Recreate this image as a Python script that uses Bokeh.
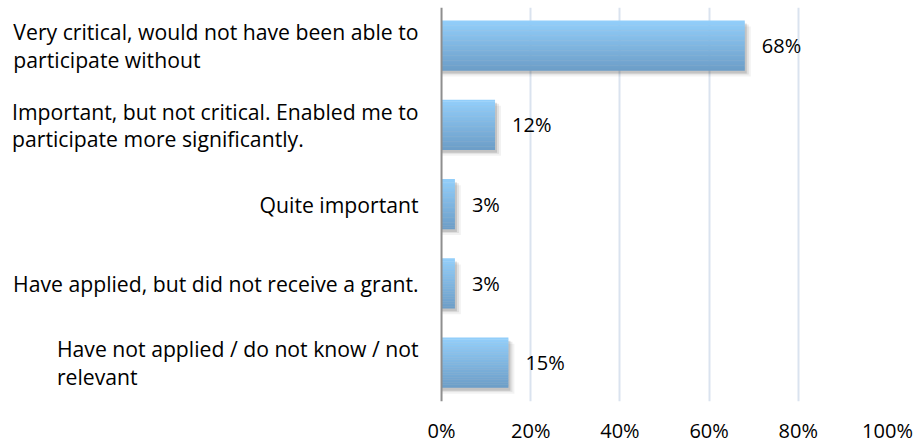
from bokeh.plotting import figure
from bokeh.models import Range1d, FixedTicker, NumeralTickFormatter, Span, ColumnDataSource
from bokeh.core.properties import value
from bokeh.embed import file_html
from bokeh.resources import INLINE

# ---- data ----
categories = [
    "Very critical, would not have been able to\nparticipate without",
    "Important, but not critical. Enabled me to\nparticipate more significantly.",
    "Quite important",
    "Have applied, but did not receive a grant.",
    "Have not applied / do not know / not\nrelevant",
]
shares = [0.68, 0.12, 0.03, 0.03, 0.15]
value_labels = ["68%", "12%", "3%", "3%", "15%"]
x_ticks = [0.0, 0.2, 0.4, 0.6, 0.8, 1.0]

FONT = "Open Sans"
FS_CAT = "21.2px"
FS_NUM = "20px"

idx = list(range(len(categories)))

p = figure(width=915, height=446, output_backend="svg", toolbar_location=None,
           x_range=Range1d(-0.971, 1.0), y_range=Range1d(4.49, -0.48),
           y_axis_location=None, min_border_left=8, min_border_right=28,
           min_border_top=7, min_border_bottom=0)
p.outline_line_color = None
p.background_fill_color = "white"
p.border_fill_color = "white"

# grid
p.ygrid.visible = False
p.xgrid.ticker = FixedTicker(ticks=x_ticks[1:])
p.xgrid.grid_line_color = "#DAE3EF"
p.xgrid.grid_line_width = 2

# x axis
ax = p.xaxis[0]
ax.ticker = FixedTicker(ticks=x_ticks)
ax.formatter = NumeralTickFormatter(format="0%")
ax.axis_line_color = None
ax.major_tick_line_color = None
ax.minor_tick_line_color = None
ax.major_label_standoff = 9
ax.major_label_text_font = FONT
ax.major_label_text_font_size = FS_NUM
ax.major_label_text_color = "#000000"

bar_h = 0.63

# shadow layers
for dx_px, dy_px, a in [(6, 6, 0.05), (4, 4, 0.08), (2, 3, 0.12)]:
    p.hbar(y=[i + dy_px / 79.1 for i in idx], left=0,
           right=[v + dx_px / 446 for v in shares], height=bar_h,
           fill_color="black", fill_alpha=a, line_color=None)

# gradient bars
N = 30
top = (147, 207, 251)
bot = (108, 157, 199)
for k in range(N):
    t = (k + 0.5) / N
    c = tuple(int(round(top[j] + (bot[j] - top[j]) * t)) for j in range(3))
    col = "#%02x%02x%02x" % c
    p.hbar(y=[i - bar_h / 2 + t * bar_h for i in idx], left=0, right=shares,
           height=bar_h / N * 1.15, fill_color=col, line_color=None)

# vertical axis line at 0
p.add_layout(Span(location=0, dimension="height", line_color="#8E8E8E", line_width=2))

# value labels
src = ColumnDataSource(dict(x=shares, y=idx, t=value_labels))
p.text(x="x", y="y", text="t", source=src, x_offset=17, text_align="left",
       text_baseline="middle", text_font=value(FONT), text_font_size=FS_NUM,
       text_color="#000000")

# category labels
csrc = ColumnDataSource(dict(x=[0] * len(idx), y=idx, t=categories))
p.text(x="x", y="y", text="t", source=csrc, x_offset=-23, text_align="left",
       anchor="center_right", text_baseline="middle", text_font=value(FONT),
       text_font_size=FS_CAT, text_line_height=0.95, text_color="#000000")

open("out.html", "w").write(file_html(p, INLINE))
